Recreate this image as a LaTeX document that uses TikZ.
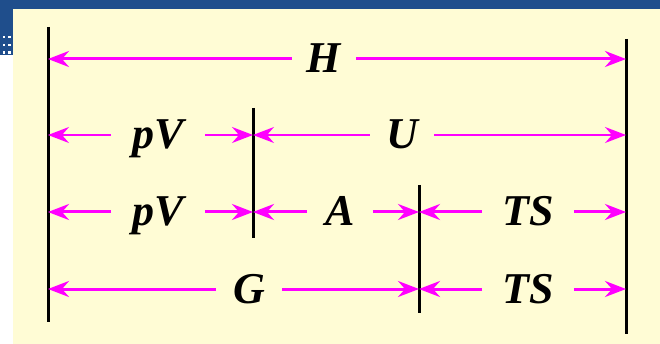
\documentclass[tikz,border=0pt]{standalone}
\usepackage{fontspec}
\newfontfamily\lblfont{Liberation Serif}
\usetikzlibrary{arrows.meta}
\definecolor{cream}{HTML}{FFFCD5}
\definecolor{slideblue}{HTML}{1F4E8C}
\definecolor{arrowpink}{HTML}{FF00FF}

\begin{document}
\begin{tikzpicture}[x=1pt,y=-1pt,
  wall/.style={line width=3pt, black},
  dim/.style={arrowpink, line width=3pt, -{Stealth[length=21pt,width=16pt,inset=7pt]}},
  dimthin/.style={dim, line width=1.8pt},
  lbl/.style={font=\lblfont\bfseries\itshape\fontsize{44}{44}\selectfont,
    inner xsep=17pt, inner ysep=0pt, text height=28pt, text depth=0pt}]
\useasboundingbox (0,0) rectangle (660,344);

% Fondo de la diapositiva
\fill[white] (0,0) rectangle (660,344);
\fill[slideblue] (0,0) rectangle (660,9);
\fill[slideblue] (0,0) rectangle (13,55);
\fill[cream] (13,9) rectangle (660,344);
\foreach \y in {37,45,52.5}
  \foreach \x in {4,9.5}
    \fill[white] (\x-1.3,\y-1.3) rectangle (\x+1.3,\y+1.3);

% Lineas verticales
\coordinate (w1t) at (48,27);   \coordinate (w1b) at (48,322);
\coordinate (w2t) at (253,108); \coordinate (w2b) at (253,238);
\coordinate (w3t) at (419,185); \coordinate (w3b) at (419,313);
\coordinate (w4t) at (626,39);  \coordinate (w4b) at (626,334);
\draw[wall] (w1t) -- (w1b);
\draw[wall] (w2t) -- (w2b);
\draw[wall] (w3t) -- (w3b);
\draw[wall] (w4t) -- (w4b);

% Etiquetas
\node[lbl, inner xsep=15pt] (H) at (324,59) {H};
\node[lbl, inner xsep=21pt] (pV1) at (158,135) {pV};
\node[lbl, inner xsep=16pt] (U) at (402,135) {U};
\node[lbl, inner xsep=21pt] (pV2) at (158,212) {pV};
\node[lbl, inner xsep=18pt] (A) at (340,212) {A};
\node[lbl, inner xsep=20pt] (TS1) at (528,212) {TS};
\node[lbl] (G) at (249,289) {G};
\node[lbl, inner xsep=20pt] (TS2) at (528,289) {TS};

% Flechas
\draw[dim] (H.west) -- (H.west -| w1t);
\draw[dim] (H.east) -- (H.east -| w4t);
\draw[dimthin] (pV1.west) -- (pV1.west -| w1t);
\draw[dimthin] (pV1.east) -- (pV1.east -| w2t);
\draw[dimthin] (U.west) -- (U.west -| w2t);
\draw[dimthin] (U.east) -- (U.east -| w4t);
\draw[dim] (pV2.west) -- (pV2.west -| w1t);
\draw[dim] (pV2.east) -- (pV2.east -| w2t);
\draw[dim] (A.west) -- (A.west -| w2t);
\draw[dim] (A.east) -- (A.east -| w3t);
\draw[dim] (TS1.west) -- (TS1.west -| w3t);
\draw[dim] (TS1.east) -- (TS1.east -| w4t);
\draw[dim] (G.west) -- (G.west -| w1t);
\draw[dim] (G.east) -- (G.east -| w3t);
\draw[dim] (TS2.west) -- (TS2.west -| w3t);
\draw[dim] (TS2.east) -- (TS2.east -| w4t);
\end{tikzpicture}
\end{document}
